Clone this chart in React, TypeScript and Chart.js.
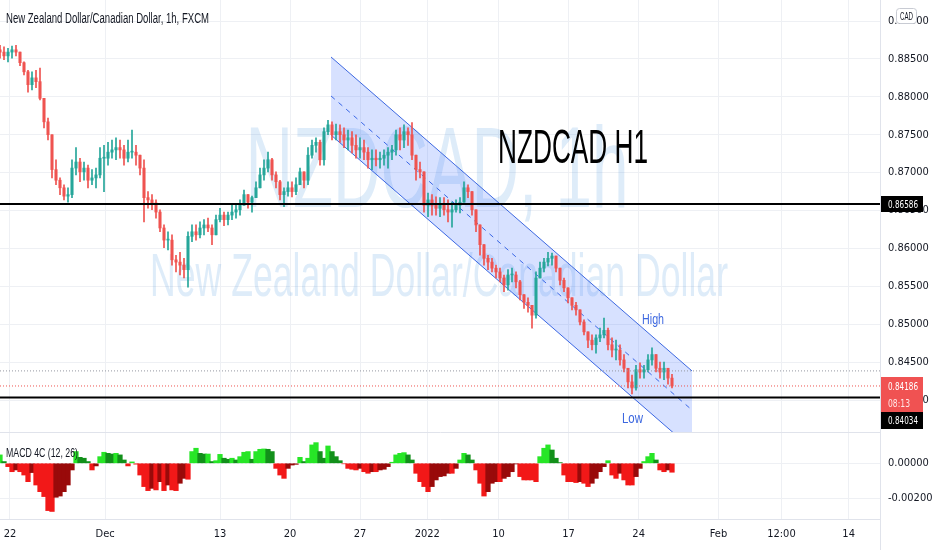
import React, { useEffect, useRef } from 'react';
import { Chart, registerables } from 'chart.js';

Chart.register(...registerables);

// Time axis: trading days counted from Mon 22 Nov 2021 00:00 (weekends removed)
const X_MIN = -0.714;
const X_MAX = 62.14;
const FIRST_BAR = -0.714;
const BAR_STEP = 0.2857;

const TIME_TICKS = [0, 6.8, 15, 20, 25, 29.8, 34.9, 39.9, 44.9, 50.6, 55.1, 59.9];
const TIME_LABELS = ['22', 'Dec', '13', '20', '27', '2022', '10', '17', '24', 'Feb', '12:00', '14'];

const PRICE_TICKS = [0.89, 0.885, 0.88, 0.875, 0.87, 0.865, 0.86, 0.855, 0.85, 0.845, 0.84];
const PRICE_MIN = 0.83579;
const PRICE_MAX = 0.89277;

const MACD_TICKS = [0, -0.002];
const MACD_MIN = -0.00318;
const MACD_MAX = 0.00173;

const OPEN_FIRST = 0.8862;
const HIGH = [
  0.8868, 0.8866, 0.8864, 0.8867, 0.8868, 0.8859, 0.8846, 0.8835, 0.8833, 0.8835,
  0.8838, 0.8783, 0.8772, 0.8723, 0.8717, 0.8693, 0.8684, 0.8680, 0.8717, 0.8733,
  0.8719, 0.8714, 0.8710, 0.8704, 0.8706, 0.8733, 0.8736, 0.8740, 0.8743, 0.8746,
  0.8743, 0.8736, 0.8743, 0.8756, 0.8736, 0.8723, 0.8717, 0.8675, 0.8671, 0.8664,
  0.8651, 0.8631, 0.8622, 0.8618, 0.8591, 0.8595, 0.8587, 0.8622, 0.8631, 0.8631,
  0.8635, 0.8638, 0.8640, 0.8631, 0.8644, 0.8653, 0.8648, 0.8648, 0.8657, 0.8657,
  0.8664, 0.8677, 0.8671, 0.8669, 0.8688, 0.8706, 0.8717, 0.8727, 0.8719, 0.8701,
  0.8690, 0.8680, 0.8688, 0.8688, 0.8693, 0.8706, 0.8701, 0.8733, 0.8743, 0.8746,
  0.8743, 0.8759, 0.8769, 0.8767, 0.8764, 0.8763, 0.8759, 0.8756, 0.8754, 0.8750,
  0.8746, 0.8743, 0.8733, 0.8730, 0.8730, 0.8727, 0.8730, 0.8733, 0.8736, 0.8756,
  0.8759, 0.8763, 0.8759, 0.8766, 0.8719, 0.8714, 0.8697, 0.8673, 0.8671, 0.8668,
  0.8667, 0.8667, 0.8664, 0.8661, 0.8664, 0.8667, 0.8688, 0.8684, 0.8675, 0.8651,
  0.8624, 0.8598, 0.8591, 0.8587, 0.8578, 0.8574, 0.8565, 0.8572, 0.8574, 0.8569,
  0.8558, 0.8539, 0.8535, 0.8525, 0.8569, 0.8582, 0.8587, 0.8595, 0.8594, 0.8590,
  0.8572, 0.8561, 0.8548, 0.8535, 0.8529, 0.8516, 0.8506, 0.8490, 0.8486, 0.8486,
  0.8495, 0.8508, 0.8495, 0.8482, 0.8479, 0.8473, 0.8460, 0.8442, 0.8433, 0.8446,
  0.8449, 0.8446, 0.8460, 0.8469, 0.8460, 0.8450, 0.8450, 0.8442, 0.8434,
];
const LOW = [
  0.8851, 0.8849, 0.8846, 0.8851, 0.8854, 0.8841, 0.8829, 0.8806, 0.8809, 0.8812,
  0.8796, 0.8759, 0.8743, 0.8693, 0.8684, 0.8671, 0.8664, 0.8661, 0.8667, 0.8697,
  0.8688, 0.8690, 0.8680, 0.8684, 0.8680, 0.8693, 0.8675, 0.8710, 0.8719, 0.8717,
  0.8719, 0.8710, 0.8714, 0.8719, 0.8710, 0.8697, 0.8635, 0.8653, 0.8651, 0.8640,
  0.8622, 0.8601, 0.8598, 0.8578, 0.8569, 0.8565, 0.8561, 0.8549, 0.8609, 0.8611,
  0.8614, 0.8618, 0.8622, 0.8605, 0.8622, 0.8635, 0.8630, 0.8631, 0.8638, 0.8640,
  0.8644, 0.8661, 0.8653, 0.8648, 0.8667, 0.8680, 0.8690, 0.8701, 0.8690, 0.8680,
  0.8664, 0.8655, 0.8669, 0.8668, 0.8671, 0.8684, 0.8680, 0.8684, 0.8719, 0.8727,
  0.8710, 0.8710, 0.8750, 0.8743, 0.8743, 0.8740, 0.8733, 0.8730, 0.8726, 0.8719,
  0.8719, 0.8717, 0.8706, 0.8704, 0.8709, 0.8706, 0.8710, 0.8706, 0.8717, 0.8723,
  0.8730, 0.8733, 0.8736, 0.8717, 0.8690, 0.8693, 0.8648, 0.8642, 0.8644, 0.8644,
  0.8642, 0.8644, 0.8635, 0.8628, 0.8648, 0.8647, 0.8664, 0.8667, 0.8644, 0.8622,
  0.8591, 0.8578, 0.8572, 0.8569, 0.8561, 0.8556, 0.8543, 0.8545, 0.8556, 0.8548,
  0.8532, 0.8521, 0.8516, 0.8495, 0.8508, 0.8561, 0.8569, 0.8577, 0.8578, 0.8569,
  0.8552, 0.8543, 0.8528, 0.8519, 0.8512, 0.8499, 0.8486, 0.8469, 0.8466, 0.8462,
  0.8477, 0.8482, 0.8466, 0.8457, 0.8453, 0.8446, 0.8437, 0.8416, 0.8408, 0.8413,
  0.8429, 0.8429, 0.8437, 0.8446, 0.8437, 0.8429, 0.8427, 0.8421, 0.8416,
];
const CLOSE = [
  0.8859, 0.8854, 0.8859, 0.8862, 0.8859, 0.8845, 0.8833, 0.8816, 0.8825, 0.8820,
  0.8798, 0.8767, 0.8750, 0.8704, 0.8690, 0.8680, 0.8669, 0.8671, 0.8706, 0.8714,
  0.8701, 0.8706, 0.8690, 0.8693, 0.8697, 0.8719, 0.8719, 0.8727, 0.8730, 0.8733,
  0.8730, 0.8719, 0.8727, 0.8727, 0.8723, 0.8706, 0.8667, 0.8664, 0.8660, 0.8648,
  0.8627, 0.8611, 0.8611, 0.8585, 0.8582, 0.8578, 0.8572, 0.8616, 0.8622, 0.8618,
  0.8627, 0.8631, 0.8627, 0.8618, 0.8638, 0.8644, 0.8638, 0.8644, 0.8648, 0.8651,
  0.8657, 0.8671, 0.8661, 0.8667, 0.8680, 0.8697, 0.8706, 0.8717, 0.8697, 0.8688,
  0.8671, 0.8675, 0.8680, 0.8675, 0.8684, 0.8701, 0.8690, 0.8723, 0.8736, 0.8740,
  0.8717, 0.8754, 0.8763, 0.8750, 0.8754, 0.8750, 0.8743, 0.8746, 0.8736, 0.8730,
  0.8733, 0.8727, 0.8717, 0.8719, 0.8717, 0.8719, 0.8723, 0.8727, 0.8730, 0.8750,
  0.8743, 0.8754, 0.8750, 0.8723, 0.8704, 0.8701, 0.8657, 0.8664, 0.8657, 0.8653,
  0.8657, 0.8651, 0.8648, 0.8651, 0.8657, 0.8661, 0.8680, 0.8675, 0.8651, 0.8631,
  0.8605, 0.8587, 0.8582, 0.8574, 0.8569, 0.8561, 0.8552, 0.8565, 0.8565, 0.8556,
  0.8539, 0.8529, 0.8525, 0.8512, 0.8561, 0.8574, 0.8582, 0.8587, 0.8590, 0.8574,
  0.8558, 0.8548, 0.8535, 0.8525, 0.8519, 0.8503, 0.8490, 0.8479, 0.8473, 0.8482,
  0.8486, 0.8492, 0.8473, 0.8466, 0.8466, 0.8453, 0.8442, 0.8424, 0.8416, 0.8440,
  0.8437, 0.8440, 0.8453, 0.8460, 0.8442, 0.8437, 0.8442, 0.8429, 0.84186,
];
const MACD = [
  0.00048, 0.00010, -0.00019, -0.00048, -0.00038, -0.00048, -0.00067, -0.00105, -0.00053, -0.00124,
  -0.00162, -0.00190, -0.00270, -0.00275, -0.00194, -0.00187, -0.00162, -0.00124, -0.00038, 0.00067,
  0.00034, 0.00029, 0.00010, -0.00038, -0.00015, 0.00038, 0.00063, 0.00057, 0.00053, 0.00057,
  0.00048, 0.00019, -0.00015, 0.00008, -0.00005, -0.00067, -0.00133, -0.00156, -0.00143, -0.00152,
  -0.00105, -0.00156, -0.00124, -0.00152, -0.00156, -0.00114, -0.00086, -0.00091, 0.00067, 0.00086,
  0.00057, 0.00053, 0.00053, 0.00010, 0.00015, 0.00051, 0.00029, 0.00023, 0.00029, 0.00019,
  0.00038, 0.00063, 0.00067, 0.00023, 0.00067, 0.00080, 0.00082, 0.00080, 0.00067, -0.00029,
  -0.00067, -0.00086, -0.00029, -0.00010, -0.00006, 0.00034, 0.00010, 0.00029, 0.00105, 0.00118,
  0.00067, 0.00029, 0.00099, 0.00067, 0.00038, 0.00015, -0.00003, -0.00029, -0.00034, -0.00038,
  -0.00029, -0.00048, -0.00057, -0.00048, -0.00048, -0.00038, -0.00034, -0.00019, 0.00006, 0.00048,
  0.00057, 0.00061, 0.00048, 0.00019, -0.00057, -0.00105, -0.00133, -0.00162, -0.00133, -0.00095,
  -0.00076, -0.00072, -0.00057, -0.00057, -0.00029, 0.00019, 0.00057, 0.00048, 0.00019, -0.00038,
  -0.00114, -0.00187, -0.00162, -0.00114, -0.00105, -0.00105, -0.00086, -0.00076, -0.00048, -0.00004,
  -0.00076, -0.00095, -0.00095, -0.00095, -0.00105, 0.00038, 0.00086, 0.00105, 0.00076, 0.00029,
  0.00004, -0.00067, -0.00105, -0.00105, -0.00110, -0.00105, -0.00114, -0.00133, -0.00114, -0.00086,
  -0.00048, -0.00019, 0.00015, -0.00067, -0.00086, -0.00057, -0.00095, -0.00124, -0.00124, -0.00076,
  -0.00029, 0.00010, 0.00038, 0.00057, 0.00019, -0.00038, -0.00048, -0.00038, -0.00051,
];

const LEVEL_TOP = 0.86586;
const LEVEL_BOTTOM = 0.84034;
const LAST_PRICE = 0.84186;
const PREV_CLOSE = 0.84385;
const COUNTDOWN = '08:13';

const CHANNEL_X = [22.93, 48.71];
const CHANNEL_HIGH = [0.88525, 0.84384];
const CHANNEL_MID = [0.88011, 0.83869];
const CHANNEL_LOW = [0.87496, 0.83355];

const NOTE_TITLE = { text: 'NZDCAD H1', x0: 34.86, x1: 45.57, y: 0.87127 };
const NOTE_HIGH = { text: 'High', x: 45.93, y: 0.85003 };
const NOTE_LOW = { text: 'Low', x: 44.46, y: 0.83698 };

const UP = '#26a69a';
const DOWN = '#ef5350';
const GRID = '#eef0f4';
const SEP = '#e0e3eb';
const TEXT = '#131722';
const BLUE = '#3d68e0';
const WATERMARK = 'rgba(60,140,220,0.17)';
const FONT_UI = "'Liberation Sans', Arial, sans-serif";
const FONT_TICK = "'Liberation Sans Narrow', 'DejaVu Sans Condensed', 'Liberation Sans', sans-serif";

function drawFit(ctx: CanvasRenderingContext2D, text: string, x: number, y: number, size: number, width: number, align: CanvasTextAlign, color: string, family = FONT_UI) {
  ctx.save();
  ctx.font = `${size}px ${family}`;
  const w = ctx.measureText(text).width;
  ctx.translate(x, y);
  ctx.scale(width / w, 1);
  ctx.fillStyle = color;
  ctx.textAlign = align;
  ctx.textBaseline = 'alphabetic';
  ctx.fillText(text, 0, 0);
  ctx.restore();
}

const bars = CLOSE.map((c, i) => ({
  x: FIRST_BAR + i * BAR_STEP,
  o: i === 0 ? OPEN_FIRST : CLOSE[i - 1],
  h: HIGH[i],
  l: LOW[i],
  c,
}));

const noPad = (s: any) => {
  s.paddingTop = 0;
  s.paddingBottom = 0;
  s.paddingLeft = 0;
  s.paddingRight = 0;
};

const timeAxis = (showLabels: boolean) => ({
  type: 'linear' as const,
  min: X_MIN,
  max: X_MAX,
  offset: false,
  afterBuildTicks: (s: any) => { s.ticks = TIME_TICKS.map((v) => ({ value: v })); },
  afterFit: (s: any) => { s.height = showLabels ? 31 : 1; noPad(s); },
  grid: { color: GRID, drawTicks: false, offset: false },
  border: { display: true, color: SEP, width: 1 },
  ticks: {
    display: showLabels,
    autoSkip: false,
    maxRotation: 0,
    padding: 9,
    color: TEXT,
    font: { family: FONT_TICK, size: 11 },
    callback: (_v: any, i: number) => TIME_LABELS[i],
  },
});

const valueAxis = (min: number, max: number, ticks: number[]) => ({
  type: 'linear' as const,
  position: 'right' as const,
  min,
  max,
  afterBuildTicks: (s: any) => { s.ticks = ticks.map((v) => ({ value: v })); },
  afterFit: (s: any) => { s.width = 52; noPad(s); },
  grid: { color: GRID, drawTicks: false },
  border: { display: true, color: SEP },
  ticks: {
    padding: 8,
    color: TEXT,
    font: { family: FONT_TICK, size: 11 },
    callback: (v: any) => Number(v).toFixed(5),
  },
});

const mainDecor = {
  id: 'mainDecor',
  beforeDatasetsDraw(chart: any) {
    const { ctx, chartArea: a } = chart;
    ctx.save();
    ctx.beginPath();
    ctx.rect(a.left, a.top, a.right - a.left, a.bottom - a.top);
    ctx.clip();
    drawFit(ctx, 'NZDCAD, 1h', a.left + 437, a.top + 207, 115, 383, 'center', WATERMARK);
    drawFit(ctx, 'New Zealand Dollar/Canadian Dollar', a.left + 439, a.top + 296, 61, 578, 'center', WATERMARK);
    ctx.restore();
  },
  afterDatasetsDraw(chart: any) {
    const { ctx, scales } = chart;
    const x = scales.x;
    const y = scales.y;
    const l = x.getPixelForValue(NOTE_TITLE.x0);
    const r = x.getPixelForValue(NOTE_TITLE.x1);
    drawFit(ctx, NOTE_TITLE.text, l, y.getPixelForValue(NOTE_TITLE.y), 49, r - l, 'left', '#000');
    drawFit(ctx, NOTE_HIGH.text, x.getPixelForValue(NOTE_HIGH.x), y.getPixelForValue(NOTE_HIGH.y), 15, 22, 'center', BLUE);
    drawFit(ctx, NOTE_LOW.text, x.getPixelForValue(NOTE_LOW.x), y.getPixelForValue(NOTE_LOW.y), 15, 21, 'center', BLUE);
  },
  afterDraw(chart: any) {
    const { ctx, chartArea: a, scales } = chart;
    const y = scales.y;
    drawFit(ctx, 'New Zealand Dollar/Canadian Dollar, 1h, FXCM', a.left + 6, a.top + 23, 14, 203, 'left', TEXT);

    const boxL = a.right + 1;
    const boxW = 42;
    const tx = a.right + 8;
    // level 0.86586
    const y1 = y.getPixelForValue(LEVEL_TOP);
    ctx.fillStyle = '#000';
    ctx.fillRect(boxL, Math.round(y1 - 8), boxW, 16);
    drawFit(ctx, LEVEL_TOP.toFixed(5), tx, Math.round(y1) + 4, 11, 30, 'left', '#fff', FONT_TICK);
    // last price
    const yl = y.getPixelForValue(LAST_PRICE);
    const redTop = Math.round(yl - 9);
    ctx.fillStyle = '#f05252';
    ctx.fillRect(boxL, redTop, boxW, 35);
    drawFit(ctx, LAST_PRICE.toFixed(5), tx, redTop + 13, 11, 30, 'left', '#fff', FONT_TICK);
    drawFit(ctx, COUNTDOWN, tx, redTop + 30, 11, 22, 'left', '#ffe6e6', FONT_TICK);
    // level 0.84034
    const y2 = y.getPixelForValue(LEVEL_BOTTOM);
    const blackTop = Math.max(Math.round(y2 - 8), redTop + 35);
    ctx.fillStyle = '#000';
    ctx.fillRect(boxL, blackTop, boxW, 17);
    drawFit(ctx, LEVEL_BOTTOM.toFixed(5), tx, blackTop + 12, 11, 30, 'left', '#fff', FONT_TICK);
    // currency badge
    ctx.save();
    ctx.fillStyle = '#fff';
    ctx.strokeStyle = '#c8cbd3';
    ctx.lineWidth = 1;
    ctx.beginPath();
    (ctx as any).roundRect(a.right + 16.5, 8.5, 20, 15, 3);
    ctx.fill();
    ctx.stroke();
    ctx.restore();
    drawFit(ctx, 'CAD', a.right + 26.5, 20, 10, 13, 'center', TEXT);
  },
};

const macdDecor = {
  id: 'macdDecor',
  afterDatasetsDraw(chart: any) {
    const { ctx, chartArea: a } = chart;
    drawFit(ctx, 'MACD 4C (12, 26)', a.left + 6, a.top + 24, 12, 72, 'left', TEXT);
  },
  afterDraw(chart: any) {
    const { ctx, chartArea: a, height } = chart;
    ctx.save();
    ctx.strokeStyle = SEP;
    ctx.lineWidth = 1;
    ctx.beginPath();
    ctx.moveTo(a.right + 0.5, a.bottom);
    ctx.lineTo(a.right + 0.5, height);
    ctx.stroke();
    ctx.restore();
  },
};

const hLine = (value: number, color: string, width: number, dash: number[]) => ({
  type: 'line' as const,
  data: [{ x: X_MIN, y: value }, { x: X_MAX, y: value }],
  borderColor: color,
  borderWidth: width,
  borderDash: dash,
  pointRadius: 0,
  fill: false,
  order: 1,
});

export default function App() {
  const mainRef = useRef<HTMLCanvasElement>(null);
  const macdRef = useRef<HTMLCanvasElement>(null);

  useEffect(() => {
    document.body.style.margin = '0';
    const candleColor = (ctx: any) => {
      const b = bars[ctx.dataIndex];
      return b && b.c >= b.o ? UP : DOWN;
    };
    const common = {
      responsive: false,
      maintainAspectRatio: false,
      animation: false as const,
      devicePixelRatio: 1,
      events: [] as any[],
      layout: { padding: 0 },
      plugins: { legend: { display: false }, tooltip: { enabled: false } },
    };
    const main = new Chart(mainRef.current as HTMLCanvasElement, {
      type: 'bar',
      data: {
        datasets: [
          {
            type: 'line',
            data: CHANNEL_X.map((x, i) => ({ x, y: CHANNEL_HIGH[i] })),
            borderColor: BLUE,
            borderWidth: 1,
            pointRadius: 0,
            fill: { target: '+1' },
            backgroundColor: 'rgba(41,98,255,0.19)',
            order: 5,
          } as any,
          {
            type: 'line',
            data: CHANNEL_X.map((x, i) => ({ x, y: CHANNEL_LOW[i] })),
            borderColor: BLUE,
            borderWidth: 1,
            pointRadius: 0,
            fill: false,
            order: 5,
          },
          {
            type: 'line',
            data: CHANNEL_X.map((x, i) => ({ x, y: CHANNEL_MID[i] })),
            borderColor: BLUE,
            borderWidth: 1,
            borderDash: [5, 5],
            pointRadius: 0,
            fill: false,
            order: 5,
          },
          {
            type: 'bar',
            data: bars.map((b) => ({ x: b.x, y: [Math.min(b.l, b.o, b.c), Math.max(b.h, b.o, b.c)] })),
            backgroundColor: candleColor,
            barThickness: 1,
            grouped: false,
            borderWidth: 0,
            order: 3,
          } as any,
          {
            type: 'bar',
            data: bars.map((b) => ({ x: b.x, y: [b.o, b.c] })),
            backgroundColor: candleColor,
            barThickness: 2.4,
            minBarLength: 1,
            grouped: false,
            borderWidth: 0,
            order: 2,
          } as any,
          hLine(PREV_CLOSE, '#9598a1', 1, [1, 2]),
          hLine(LAST_PRICE, '#ef5350', 1, [1, 2]),
          hLine(LEVEL_TOP, '#000', 2, []),
          hLine(LEVEL_BOTTOM, '#000', 2, []),
        ],
      },
      options: {
        ...common,
        scales: {
          x: timeAxis(false) as any,
          y: valueAxis(PRICE_MIN, PRICE_MAX, PRICE_TICKS) as any,
        },
      },
      plugins: [mainDecor],
    });

    const macd = new Chart(macdRef.current as HTMLCanvasElement, {
      type: 'bar',
      data: {
        datasets: [
          {
            data: MACD.map((v, i) => ({ x: FIRST_BAR + i * BAR_STEP, y: v })),
            backgroundColor: (ctx: any) => {
              const i = ctx.dataIndex;
              const v = MACD[i];
              const p = i > 0 ? MACD[i - 1] : v;
              if (v >= 0) return v >= p ? '#27e627' : '#12901a';
              return v <= p ? '#f21818' : '#990a0a';
            },
            barThickness: 4.6,
            grouped: false,
            borderWidth: 0,
          } as any,
        ],
      },
      options: {
        ...common,
        scales: {
          x: timeAxis(true) as any,
          y: valueAxis(MACD_MIN, MACD_MAX, MACD_TICKS) as any,
        },
      },
      plugins: [macdDecor],
    });

    return () => {
      main.destroy();
      macd.destroy();
    };
  }, []);

  return (
    <div style={{ position: 'absolute', left: 0, top: 0, width: 932, height: 550, background: '#fff', overflow: 'hidden' }}>
      <canvas ref={mainRef} width={932} height={433} style={{ position: 'absolute', left: 0, top: 0 }} />
      <canvas ref={macdRef} width={932} height={117} style={{ position: 'absolute', left: 0, top: 433 }} />
    </div>
  );
}
